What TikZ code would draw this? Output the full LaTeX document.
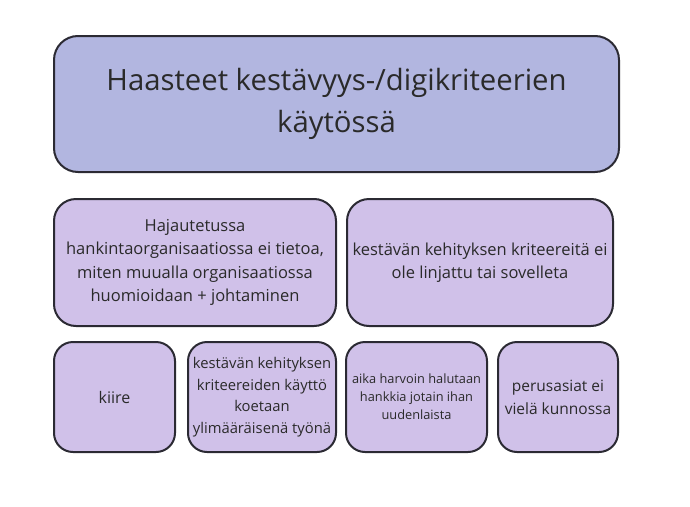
\documentclass[tikz,border=0pt]{standalone}
\usepackage{fontspec}
\setmainfont{Open Sans}
\definecolor{titlefill}{HTML}{B2B6E0}
\definecolor{boxfill}{HTML}{D0C1E9}
\definecolor{edgecol}{HTML}{2B2A33}
\definecolor{textcol}{HTML}{2A2A2A}
\tikzset{
    titlebox/.style={draw=edgecol,fill=titlefill,line width=2pt,rounded corners=24pt,align=center,text=textcol,inner sep=0pt},
    bigbox/.style={draw=edgecol,fill=boxfill,line width=2pt,rounded corners=22pt,align=center,text=textcol,inner sep=0pt,minimum height=127pt},
    smallbox/.style={draw=edgecol,fill=boxfill,line width=2pt,rounded corners=19pt,align=center,text=textcol,inner sep=0pt,minimum height=110pt}
}
\begin{document}
\begin{tikzpicture}[x=1pt,y=-1pt]
    \useasboundingbox (0,0) rectangle (690,506);
    \node[titlebox,minimum width=565pt,minimum height=136pt,font=\fontsize{29.3}{42}\selectfont] (Title) at (336.5,104) {Haasteet kestävyys-/digikriteerien\\käytössä};
    \node[bigbox,minimum width=282pt,font=\fontsize{16.5}{23.2}\selectfont] (Hajautus) at (195,262.5) {Hajautetussa\\hankintaorganisaatiossa ei tietoa,\\miten muualla organisaatiossa\\huomioidaan + johtaminen};
    \node[bigbox,minimum width=266pt,font=\fontsize{16.5}{22.5}\selectfont] (Linjaus) at (480,262.5) {kestävän kehityksen kriteereitä ei\\ole linjattu tai sovelleta};

    % Lower row
    \node[smallbox,minimum width=121pt,font=\fontsize{16}{22}\selectfont] (Kiire) at (114.5,397) {kiire};
    \node[smallbox,minimum width=148pt,font=\fontsize{14.8}{21.6}\selectfont] (Lisatyo) at (262,397) {kestävän kehityksen\\kriteereiden käyttö\\koetaan\\ylimääräisenä työnä};
    \node[smallbox,minimum width=141pt,font=\fontsize{12.8}{18}\selectfont] (Uusi) at (416.5,397) {aika harvoin halutaan\\hankkia jotain ihan\\uudenlaista};
    \node[smallbox,minimum width=120pt,font=\fontsize{15.5}{23}\selectfont] (Perus) at (558,397) {perusasiat ei\\vielä kunnossa};
\end{tikzpicture}
\end{document}
